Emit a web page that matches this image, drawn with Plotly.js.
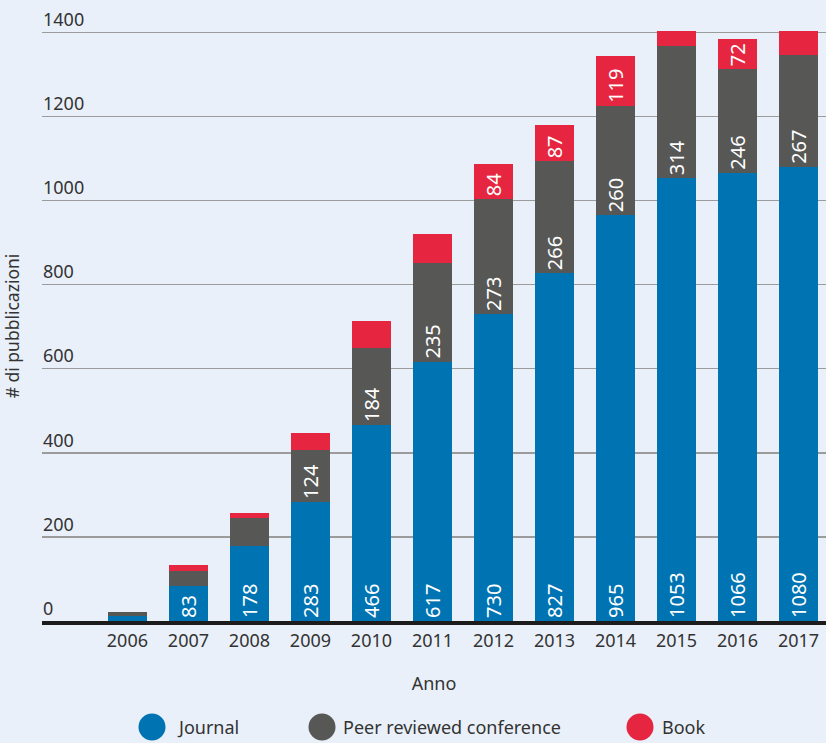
<!DOCTYPE html>
<html>
<head>
<meta charset="utf-8">
<script src="https://cdn.plot.ly/plotly-3.0.1.min.js"></script>
<style>html,body{margin:0;padding:0;background:#e9f0f9;}#chart{width:826px;height:743px;}</style>
</head>
<body>
<div id="chart"></div>
<script>
const years = ['2006','2007','2008','2009','2010','2011','2012','2013','2014','2015','2016','2017'];
const journal = [12, 83, 178, 283, 466, 617, 730, 827, 965, 1053, 1066, 1080];
const conference = [10, 37, 66, 124, 184, 235, 273, 266, 260, 314, 246, 267];
const book = [0, 14, 14, 39, 64, 69, 84, 87, 119, 95, 72, 80];
const seriesNames = ['Journal', 'Peer reviewed conference', 'Book'];
const colors = ['#0073b2', '#575756', '#e62640'];
const yTicks = [0, 200, 400, 600, 800, 1000, 1200, 1400];
const yMax = 1400;
const minLabel = 70;

const series = [journal, conference, book];
const base = years.map(() => 0);
const traces = series.map((vals, k) => {
  const labels = vals.map((v, i) => {
    const top = base[i] + v;
    const show = v >= minLabel && top <= yMax;
    return show ? String(v) : '';
  });
  vals.forEach((v, i) => { base[i] += v; });
  return {
    type: 'bar', x: years, y: vals, name: seriesNames[k],
    marker: {color: colors[k]},
    text: labels, textposition: 'inside', insidetextanchor: 'start',
    textangle: -90, constraintext: 'none',
    textfont: {color: '#ffffff', size: 20, family: 'Noto Sans'},
    hoverinfo: 'skip', showlegend: false
  };
});

const W = 826, L = 42, T = 31, B = 122, H = 743;
const plotW = W - L, plotH = H - T - B;
const px2x = x => (x - L) / plotW;
const py2y = y => (H - B - y) / plotH;
const legY = py2y(727);
const legCircles = [152, 322, 640];
const legText = [175, 341, 660];
const shapes = [], annotations = [];
seriesNames.forEach((n, k) => {
  shapes.push({type: 'circle', xref: 'paper', yref: 'paper', xsizemode: 'pixel', ysizemode: 'pixel',
    xanchor: px2x(legCircles[k]), yanchor: legY, x0: -13.5, x1: 13.5, y0: -13.5, y1: 13.5,
    fillcolor: colors[k], line: {width: 0}});
  annotations.push({xref: 'paper', yref: 'paper', x: px2x(legText[k]), y: legY, xanchor: 'left', yanchor: 'middle',
    text: n, showarrow: false, font: {size: 18, color: '#333333', family: 'Noto Sans'}});
});

const layout = {
  width: W, height: H,
  margin: {l: L, r: 0, t: T, b: B},
  paper_bgcolor: '#e9f0f9', plot_bgcolor: '#e9f0f9',
  barmode: 'stack', bargap: 0.36,
  font: {family: 'Noto Sans', color: '#333333', size: 18},
  xaxis: {type: 'category', range: [-1.4, 11.45], showgrid: false, ticks: '',
    showline: true, linecolor: '#1c1c1c', linewidth: 4,
    tickfont: {size: 18, color: '#333333'},
    title: {text: 'Anno', font: {size: 18, color: '#333333'}, standoff: 28}},
  yaxis: {range: [0, yMax + 3], tickvals: yTicks, ticktext: yTicks.map(String),
    ticklabelposition: 'inside top', ticklabeloverflow: 'allow', ticklabelstandoff: -2,
    gridcolor: '#9b9b9b', gridwidth: 1.5, zeroline: false, showline: false, ticks: '',
    tickfont: {size: 18, color: '#333333'},
    title: {text: '# di pubblicazioni', font: {size: 17.5, color: '#333333'}, standoff: 18}},
  shapes: shapes, annotations: annotations,
  showlegend: false
};

Plotly.newPlot('chart', traces, layout, {displayModeBar: false, staticPlot: true});
</script>
</body>
</html>
